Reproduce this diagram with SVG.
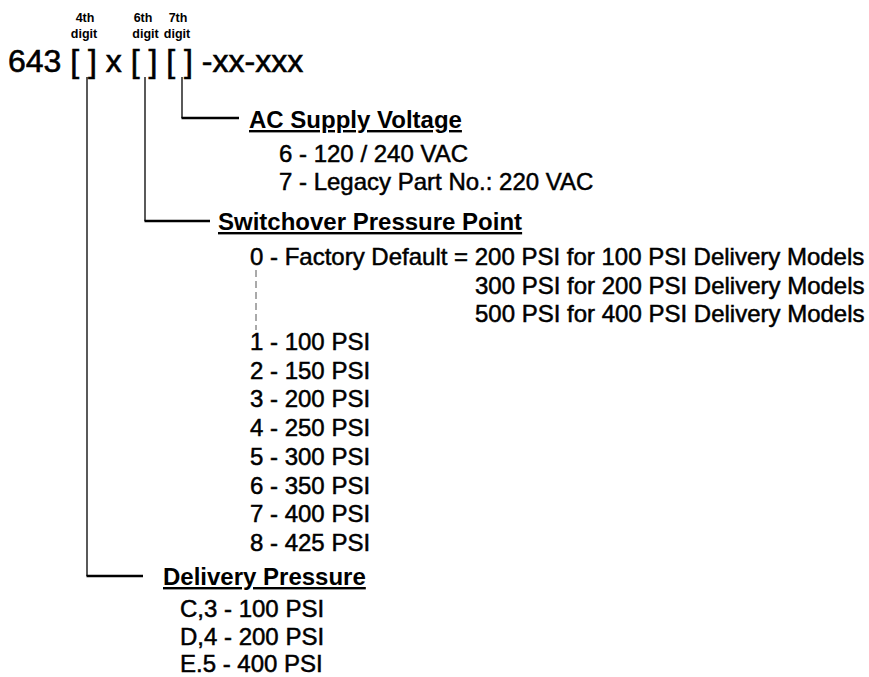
<svg xmlns="http://www.w3.org/2000/svg" width="869" height="677" viewBox="0 0 869 677">
  <style>
    text { font-family: "Liberation Sans", Arial, sans-serif; fill: #000; }
    .title { font-size: 32px; stroke: #000; stroke-width: 0.6; }
    .digit { font-size: 12.5px; font-weight: bold; text-anchor: middle; }
    .head { font-size: 24px; font-weight: bold; text-decoration: underline; }
    .item { font-size: 24px; stroke: #000; stroke-width: 0.5; }
    .vline { stroke: #000; stroke-width: 1.3; fill: none; }
    .hline { stroke: #000; stroke-width: 2.5; fill: none; }
    .dash { stroke: #555; stroke-width: 1; stroke-dasharray: 7 4; fill: none; }
  </style>
  <rect width="869" height="677" fill="#fff"/>

  <g id="part-number">
    <text class="title" x="8" y="72">643 [ ] x [ ] [ ] -xx-xxx</text>
    <text class="digit" x="85" y="22">4th</text>
    <text class="digit" x="84" y="38">digit</text>
    <text class="digit" x="143" y="22">6th</text>
    <text class="digit" x="145.5" y="38">digit</text>
    <text class="digit" x="178" y="22">7th</text>
    <text class="digit" x="177" y="38">digit</text>
  </g>

  <g id="connectors">
    <polyline class="vline" points="182,77 182,118"/>
    <line class="hline" x1="181.5" y1="118" x2="239" y2="118"/>
    <polyline class="vline" points="145,77 145,221"/>
    <line class="hline" x1="144.5" y1="221" x2="210" y2="221"/>
    <polyline class="vline" points="87,77 87,576"/>
    <line class="hline" x1="86.5" y1="576" x2="143" y2="576"/>
    <line class="dash" x1="256" y1="270" x2="256" y2="330"/>
  </g>

  <g id="ac-supply-voltage">
    <text class="head" x="249" y="128">AC Supply Voltage</text>
    <text class="item" x="279" y="162">6 - 120 / 240 VAC</text>
    <text class="item" x="279" y="190">7 - Legacy Part No.: 220 VAC</text>
  </g>

  <g id="switchover-pressure-point">
    <text class="head" x="218" y="230">Switchover Pressure Point</text>
    <text class="item" x="250" y="265">0 - Factory Default = 200 PSI for 100 PSI Delivery Models</text>
    <text class="item" x="475" y="293.5">300 PSI for 200 PSI Delivery Models</text>
    <text class="item" x="475" y="322">500 PSI for 400 PSI Delivery Models</text>
    <text class="item" x="250" y="350">1 - 100 PSI</text>
    <text class="item" x="250" y="378.5">2 - 150 PSI</text>
    <text class="item" x="250" y="407">3 - 200 PSI</text>
    <text class="item" x="250" y="436">4 - 250 PSI</text>
    <text class="item" x="250" y="465">5 - 300 PSI</text>
    <text class="item" x="250" y="493.5">6 - 350 PSI</text>
    <text class="item" x="250" y="522">7 - 400 PSI</text>
    <text class="item" x="250" y="551">8 - 425 PSI</text>
  </g>

  <g id="delivery-pressure">
    <text class="head" x="163" y="585">Delivery Pressure</text>
    <text class="item" x="180" y="617">C,3 - 100 PSI</text>
    <text class="item" x="180" y="645">D,4 - 200 PSI</text>
    <text class="item" x="180" y="672">E.5 - 400 PSI</text>
  </g>
</svg>
